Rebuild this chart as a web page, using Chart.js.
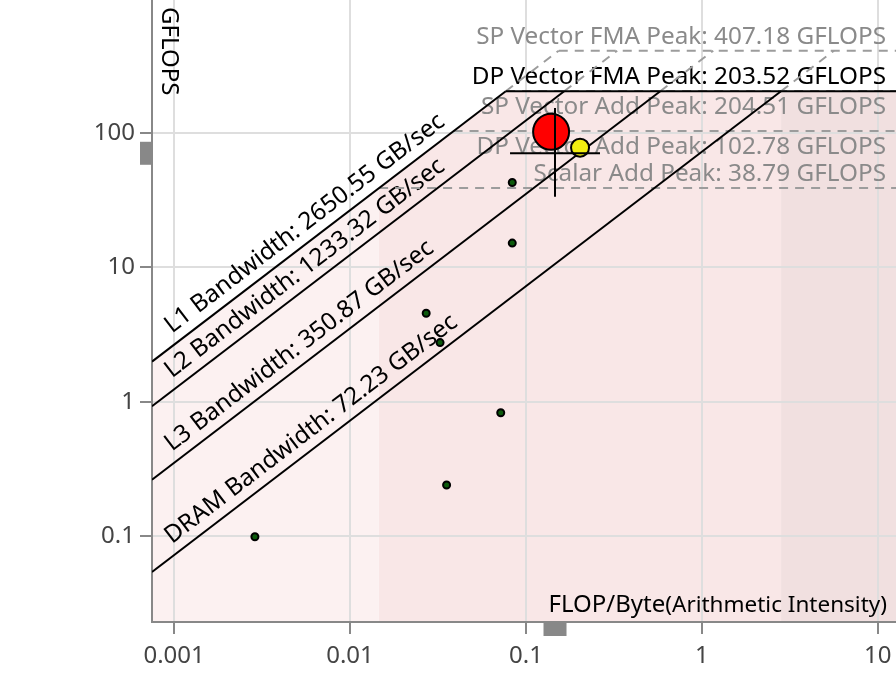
<!DOCTYPE html>
<html>
<head>
<meta charset="utf-8">
<script src="https://cdn.jsdelivr.net/npm/chart.js@4.4.0/dist/chart.umd.min.js"></script>
<style>
  html, body { margin: 0; padding: 0; background: #fff; }
  #wrap { width: 896px; height: 677px; }
</style>
</head>
<body>
<div id="wrap"><canvas id="roofline" width="896" height="677"></canvas></div>
<script>
// axis ticks
const xTickValues = [0.001, 0.01, 0.1, 1, 10];
const xTickLabels = ["0.001", "0.01", "0.1", "1", "10"];
const yTickValues = [0.1, 1, 10, 100];
const yTickLabels = ["0.1", "1", "10", "100"];

// memory roofs (GB/sec)
const bandwidthNames = ["L1", "L2", "L3", "DRAM"];
const bandwidthValues = [2650.55, 1233.32, 350.87, 72.23];

// compute roofs (GFLOPS)
const peakNames = ["SP Vector FMA", "DP Vector FMA", "SP Vector Add", "DP Vector Add", "Scalar Add"];
const peakValues = [407.18, 203.52, 204.51, 102.78, 38.79];

// loops (FLOP/Byte, GFLOPS)
const loopX = [0.0836, 0.0836, 0.0271, 0.0325, 0.0719, 0.0354, 0.00288];
const loopY = [42.6, 15.1, 4.54, 2.75, 0.828, 0.240, 0.099];
const hotX = [0.139];
const hotY = [101.7];
const warmX = [0.203];
const warmY = [77.4];

// crosshair (selected loop) and its extent
const crossX = 0.1463;
const crossY = 70.3;
const crossXSpan = [0.0812, 0.2636];
const crossYSpan = [33.4, 152.6];

// shaded zones under the roof
const bandEdges = [0.0146, 2.82];

const xRange = [0.000749, 12.69];
const yRange = [0.0230, 969.8];

const FONT = '"Noto Sans", sans-serif';
const bandColors = ["#fcf1f1", "#f9e7e7", "#f1e0e0"];
const peakLabelSide = ["above", "above", "below", "below", "above"];
const bwLabelX = 0.001;

const DP = peakValues[1];
const SP = peakValues[0];
const L1 = bandwidthValues[0];

function seg(x0, y0, x1, y1) {
  return [{ x: x0, y: y0 }, { x: x1, y: y1 }];
}
function lineSet(data, color, dash, order) {
  return {
    data: data, showLine: true, borderColor: color, borderWidth: 2,
    borderDash: dash, pointRadius: 0, pointHoverRadius: 0, fill: false, order: order
  };
}

const datasets = [];
// dashed extensions up to SP FMA peak
bandwidthValues.forEach(bw => {
  datasets.push(lineSet(seg(DP / bw, DP, SP / bw, SP), "#9c9c9c", [9, 7], 60));
});
// dashed horizontal roofs (everything except DP FMA)
peakValues.forEach((p, i) => {
  if (i === 1) return;
  datasets.push(lineSet(seg(p / L1, p, xRange[1], p), "#9c9c9c", [9, 7], 60));
});
// solid roofs
bandwidthValues.forEach(bw => {
  datasets.push(lineSet(seg(xRange[0], bw * xRange[0], DP / bw, DP), "#000", [], 50));
});
datasets.push(lineSet(seg(DP / L1, DP, xRange[1], DP), "#000", [], 50));

// loops
datasets.push({
  data: loopX.map((v, i) => ({ x: v, y: loopY[i] })),
  pointRadius: 3.5, pointBackgroundColor: "#0c5a0c", pointBorderColor: "#000",
  pointBorderWidth: 2, order: 30
});
datasets.push({
  data: hotX.map((v, i) => ({ x: v, y: hotY[i] })),
  pointRadius: 18, pointBackgroundColor: "#ff0000", pointBorderColor: "#000",
  pointBorderWidth: 2, order: 20
});
datasets.push({
  data: warmX.map((v, i) => ({ x: v, y: warmY[i] })),
  pointRadius: 9, pointBackgroundColor: "#f2ee10", pointBorderColor: "#000",
  pointBorderWidth: 2, order: 15
});
// crosshair
datasets.push(lineSet(seg(crossXSpan[0], crossY, crossXSpan[1], crossY), "#000", [], 10));
datasets.push(lineSet(seg(crossX, crossYSpan[0], crossX, crossYSpan[1]), "#000", [], 10));

const roofDecor = {
  id: "roofDecor",
  beforeDraw(chart) {
    const { ctx, chartArea: a, scales: { x, y } } = chart;
    const bounds = [xRange[0], bandEdges[0], bandEdges[1], xRange[1]];
    ctx.save();
    ctx.beginPath();
    ctx.rect(a.left, a.top, a.width, a.height);
    ctx.clip();
    ctx.beginPath();
    ctx.moveTo(x.getPixelForValue(xRange[0]), y.getPixelForValue(L1 * xRange[0]));
    ctx.lineTo(x.getPixelForValue(DP / L1), y.getPixelForValue(DP));
    ctx.lineTo(x.getPixelForValue(xRange[1]), y.getPixelForValue(DP));
    ctx.lineTo(x.getPixelForValue(xRange[1]), a.bottom);
    ctx.lineTo(x.getPixelForValue(xRange[0]), a.bottom);
    ctx.closePath();
    ctx.clip();
    bandColors.forEach((c, i) => {
      const x0 = x.getPixelForValue(bounds[i]);
      const x1 = x.getPixelForValue(bounds[i + 1]);
      ctx.fillStyle = c;
      ctx.fillRect(x0, a.top, x1 - x0, a.height);
    });
    ctx.restore();
  },
  beforeDatasetsDraw(chart) {
    const { ctx, chartArea: a, scales: { x, y } } = chart;
    ctx.save();
    ctx.font = "24.3px " + FONT;
    ctx.textBaseline = "alphabetic";

    // compute roof labels
    ctx.textAlign = "right";
    peakValues.forEach((p, i) => {
      const py = y.getPixelForValue(p);
      ctx.fillStyle = i === 1 ? "#000" : "#8a8a8a";
      const ty = peakLabelSide[i] === "above" ? py - 7 : py + 23;
      ctx.fillText(peakNames[i] + " Peak: " + p.toFixed(2) + " GFLOPS", a.right - 10, ty);
    });

    // memory roof labels along the lines
    ctx.textAlign = "left";
    ctx.fillStyle = "#000";
    bandwidthValues.forEach((bw, i) => {
      const px = x.getPixelForValue(bwLabelX);
      const py = y.getPixelForValue(bw * bwLabelX);
      const ang = Math.atan2(y.getPixelForValue(bw * bwLabelX * 10) - py,
                             x.getPixelForValue(bwLabelX * 10) - px);
      ctx.save();
      ctx.translate(px, py);
      ctx.rotate(ang);
      ctx.fillText(bandwidthNames[i] + " Bandwidth: " + bw.toFixed(2) + " GB/sec", 5, -10);
      ctx.restore();
    });

    // axis titles inside the plot
    ctx.textAlign = "right";
    ctx.font = "22.5px " + FONT;
    const sub = "(Arithmetic Intensity)";
    const subW = ctx.measureText(sub).width;
    ctx.fillText(sub, a.right - 9, a.bottom - 10);
    ctx.font = "24px " + FONT;
    ctx.fillText("FLOP/Byte", a.right - 9 - subW, a.bottom - 10);

    ctx.save();
    ctx.translate(a.left + 10, a.top + 7);
    ctx.rotate(Math.PI / 2);
    ctx.textAlign = "left";
    ctx.fillText("GFLOPS", 0, 0);
    ctx.restore();
    ctx.restore();
  },
  afterDraw(chart) {
    const { ctx, chartArea: a, scales: { x, y } } = chart;
    ctx.save();
    ctx.fillStyle = "#888";
    const cx = x.getPixelForValue(crossX);
    const cy = y.getPixelForValue(crossY);
    ctx.fillRect(cx - 11.5, a.bottom + 1, 23, 13);
    ctx.fillRect(a.left - 12, cy - 11.5, 12, 23);
    ctx.restore();
  }
};

new Chart(document.getElementById("roofline"), {
  type: "scatter",
  data: { datasets: datasets },
  options: {
    responsive: false,
    animation: false,
    events: [],
    layout: { padding: 0, autoPadding: false },
    plugins: { legend: { display: false }, tooltip: { enabled: false } },
    scales: {
      x: {
        type: "logarithmic",
        min: xRange[0],
        max: xRange[1],
        afterBuildTicks: s => { s.ticks = xTickValues.map(v => ({ value: v })); },
        afterFit: s => { s.height = 55; s.paddingLeft = 0; s.paddingRight = 0; },
        ticks: {
          callback: (v, i) => xTickLabels[i],
          font: { family: FONT, size: 24 },
          color: "#444",
          padding: 8,
          autoSkip: false,
          maxRotation: 0
        },
        grid: { color: "#dedede", lineWidth: 2, tickLength: 12, tickColor: "#888" },
        border: { color: "#888", width: 2 }
      },
      y: {
        type: "logarithmic",
        min: yRange[0],
        max: yRange[1],
        afterBuildTicks: s => { s.ticks = yTickValues.map(v => ({ value: v })); },
        afterFit: s => { s.width = 152; s.paddingTop = 0; s.paddingBottom = 0; },
        ticks: {
          callback: (v, i) => yTickLabels[i],
          font: { family: FONT, size: 24 },
          color: "#444",
          padding: 5,
          autoSkip: false
        },
        grid: { color: "#dedede", lineWidth: 2, tickLength: 12, tickColor: "#888" },
        border: { color: "#888", width: 2 }
      }
    }
  },
  plugins: [roofDecor]
});
</script>
</body>
</html>
